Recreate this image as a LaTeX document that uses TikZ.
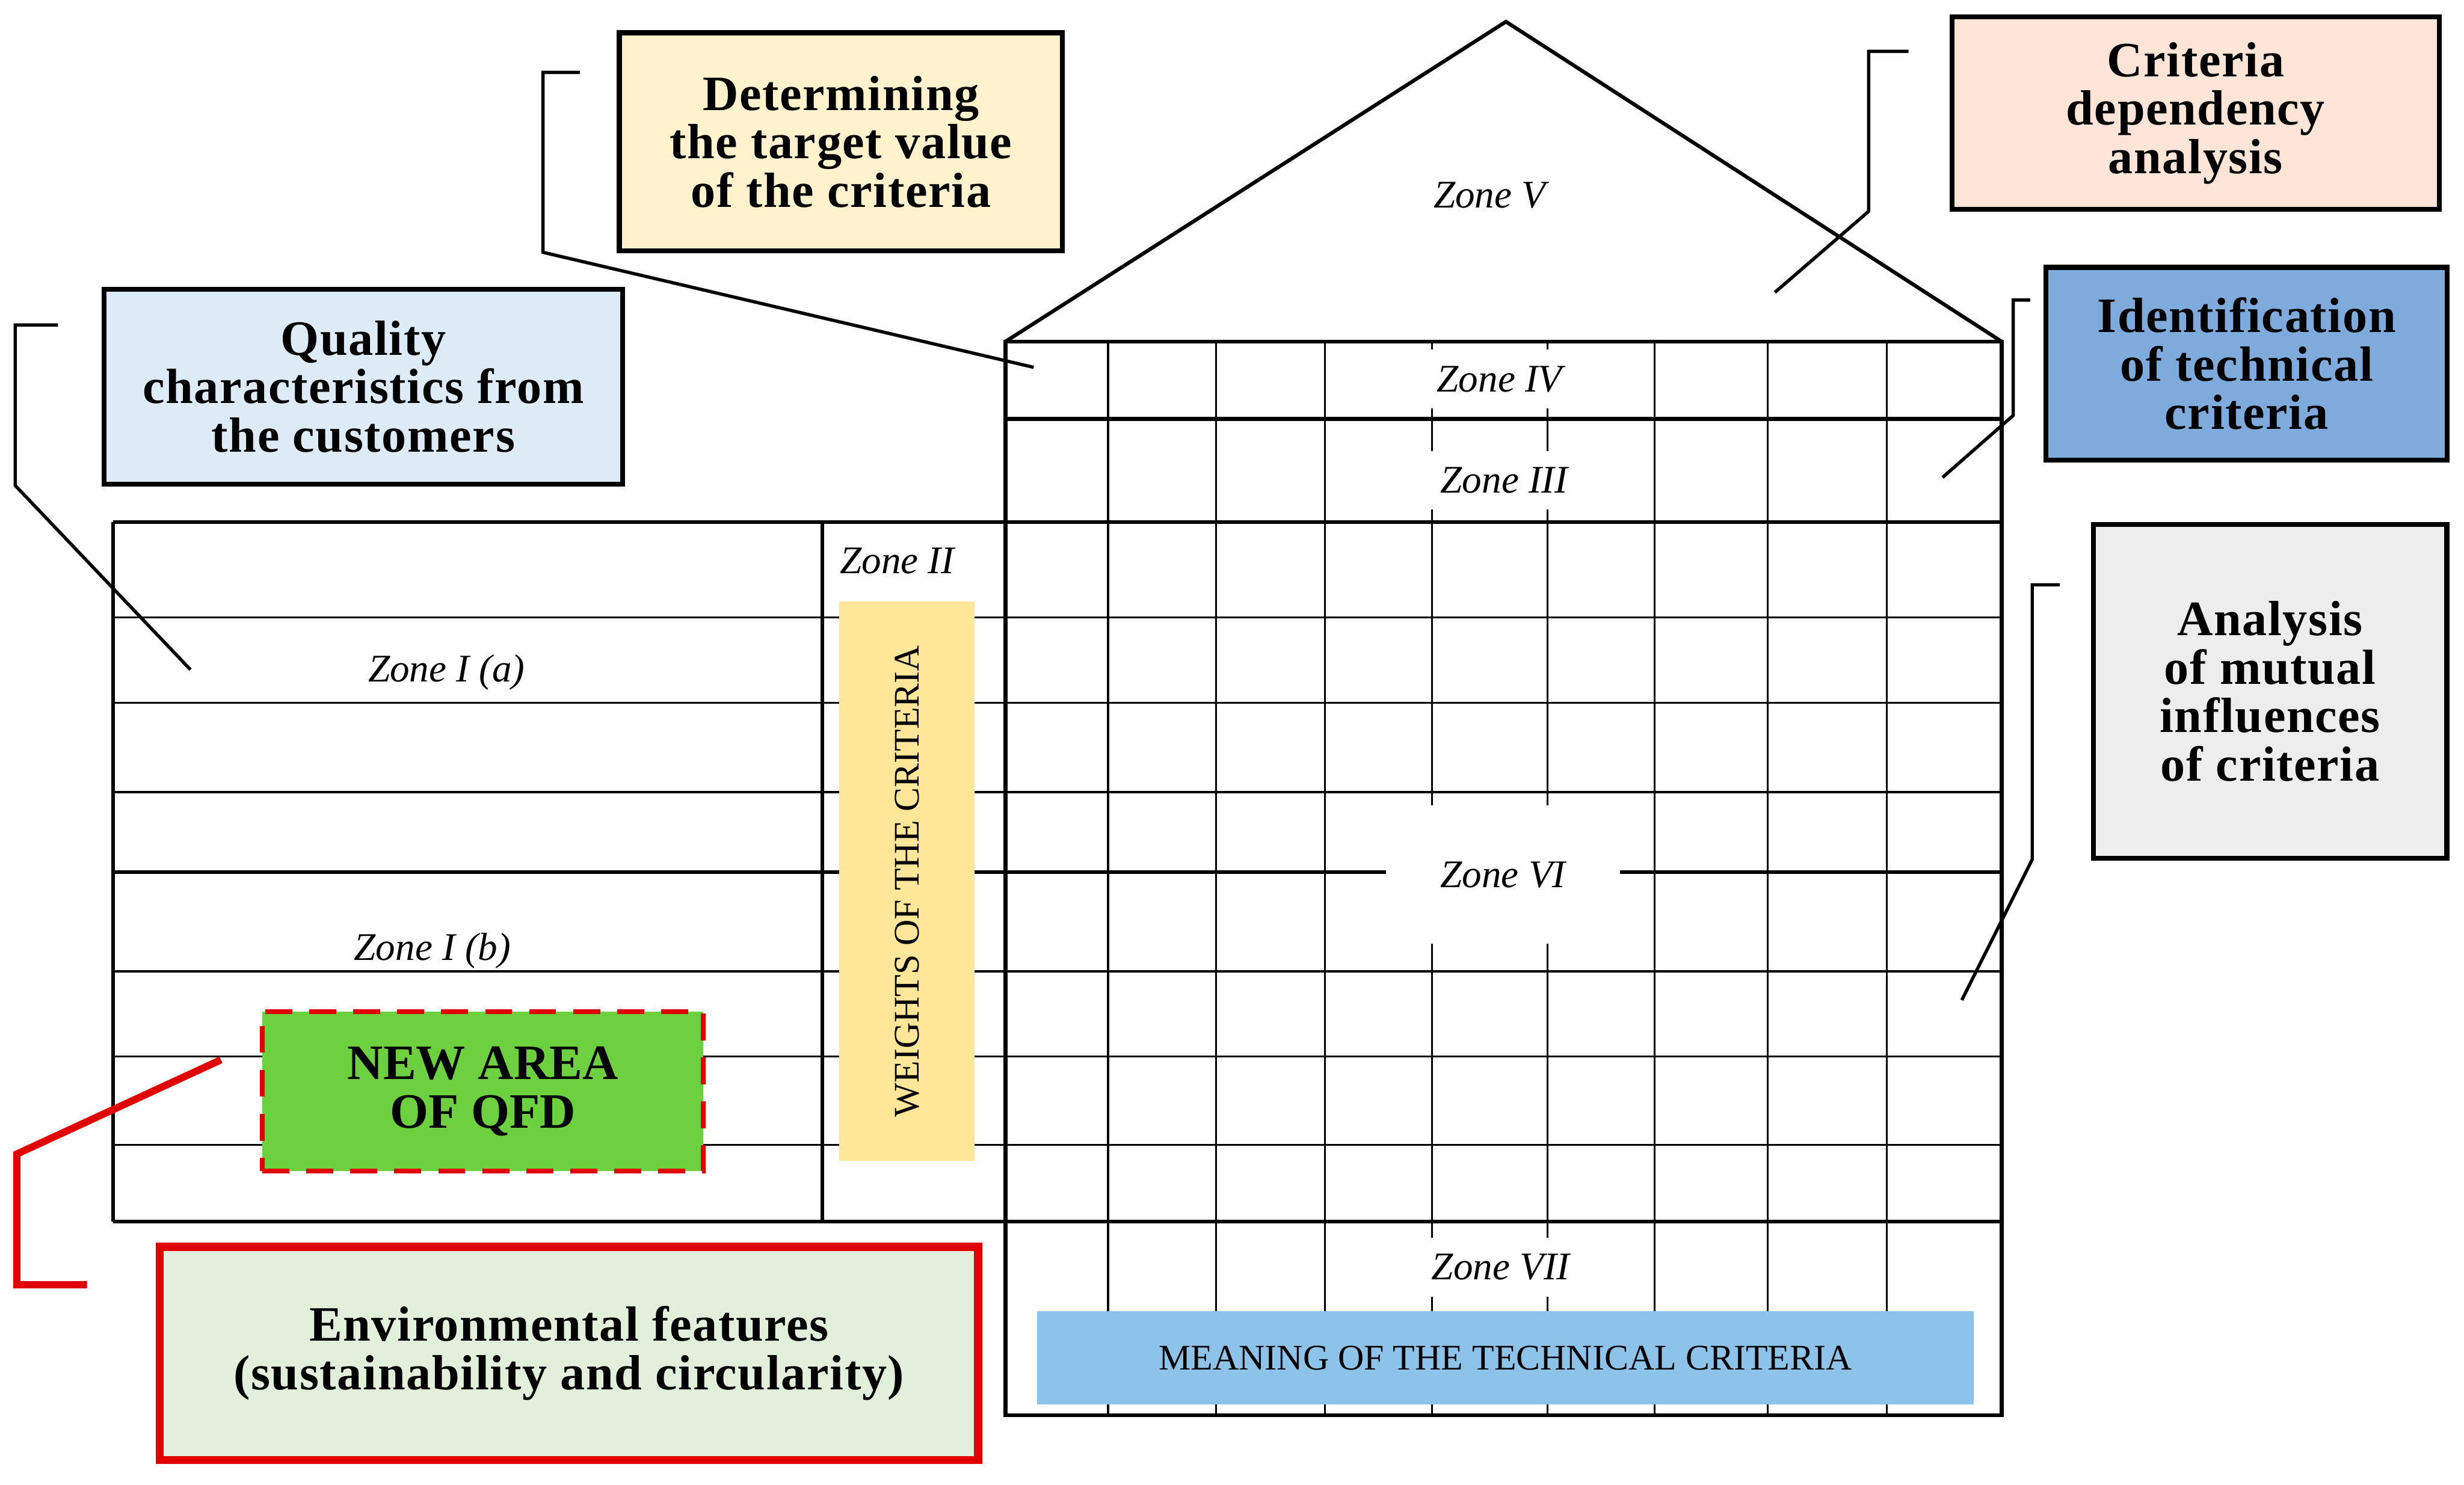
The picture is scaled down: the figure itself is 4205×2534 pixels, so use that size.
\documentclass[tikz,border=0pt]{standalone}
\usepackage{fontspec}
\setmainfont{Liberation Serif}
\usepackage{xcolor}
\usetikzlibrary{calc}
\definecolor{targetfill}{HTML}{FFF2CC}
\definecolor{qualfill}{HTML}{DDEBF7}
\definecolor{depfill}{HTML}{FCE4D6}
\definecolor{identfill}{HTML}{7FAADC}
\definecolor{mutualfill}{HTML}{EDEDED}
\definecolor{envfill}{HTML}{E2EFDA}
\definecolor{newfill}{HTML}{6DD13F}
\definecolor{weightfill}{HTML}{FFE699}
\definecolor{meaningfill}{HTML}{8DC3E8}
\definecolor{qfdred}{HTML}{E00000}

\begin{document}
\begin{tikzpicture}[x=0.01cm, y=-0.01cm,
  gridline/.style={line width=0.9pt},
  frame/.style={line width=1.8pt},
  callout/.style={draw, line width=2.4pt, fill=#1, align=center, inner sep=0pt,
    font=\fontsize{24}{23.5}\selectfont\bfseries\addfontfeature{LetterSpace=2}},
  leader/.style={line width=1.6pt},
  zone/.style={font=\fontsize{19}{21}\selectfont\itshape, inner sep=0pt},
  gap/.style={zone, fill=white, minimum width=27mm, minimum height=10mm},
  band/.style={fill=#1, align=center, inner sep=0pt, font=\fontsize{17.5}{19}\selectfont}]
  \useasboundingbox (0,0) rectangle (4205,2534);

  % house grid
  \foreach \y in {1054,1200,1352,1658,1803,1954}
    \draw[gridline] (193,\y) -- (3416,\y);
  \foreach \x in {1891,2075,2261,2444,2641,2824,3017,3220}
    \draw[gridline] (\x,583) -- (\x,2416);
  \foreach \y in {891,1489,2085}
    \draw[frame] (193,\y) -- (3416,\y);
  \draw[frame] (193,891) -- (193,2085);
  \draw[frame] (1403,891) -- (1403,2085);
  \draw[frame] (1716,583) rectangle (3416,2416);
  \draw[frame] (1716,715) -- (3416,715);
  \draw[frame, line join=miter] (1716,583) -- (2570,37) -- (3416,583);

  % coloured areas
  \node[band=weightfill, rotate=90, minimum width=95.4mm, minimum height=23.1mm] (weights) at (1548,1504) {WEIGHTS OF THE CRITERIA};
  \node[band=meaningfill, minimum width=159.8mm, minimum height=15.9mm] (meaning) at (2569,2318) {MEANING OF THE TECHNICAL CRITERIA};
  \node[draw=qfdred, line width=2.3pt, dash pattern=on 4.6mm off 2.9mm, fill=newfill, align=center, inner sep=0pt,
    minimum width=75.2mm, minimum height=27.2mm, font=\fontsize{24}{23.5}\selectfont\bfseries] (newarea) at (824,1863) {NEW AREA\\OF QFD};

  % zone labels
  \node[zone] (zone5) at (2542,333) {Zone V};
  \node[gap] (zone4) at (2559,647) {Zone IV};
  \node[gap] (zone3) at (2567,820) {Zone III};
  \node[gap, minimum width=40mm, minimum height=23.6mm] (zone6) at (2565,1493) {Zone VI};
  \node[gap] (zone7) at (2561,2163) {Zone VII};
  \node[zone] (zone1a) at (762,1148) {Zone I (a)};
  \node[zone] (zone1b) at (738,1623) {Zone I (b)};
  \node[zone] (zone2) at (1531,957) {Zone II};

  % callouts
  \node[callout=targetfill, minimum width=75.6mm, minimum height=37.2mm] (target) at (1435,242) {Determining\\the target value\\of the criteria};
  \node[callout=qualfill, minimum width=88.5mm, minimum height=33.2mm] (qual) at (620,660) {Quality\\characteristics from\\the customers};
  \node[callout=depfill, minimum width=83.1mm, minimum height=32.8mm] (dep) at (3747,193) {Criteria\\dependency\\analysis};
  \node[callout=identfill, minimum width=68.4mm, minimum height=32.9mm] (ident) at (3834,621) {Identification\\of technical\\criteria};
  \node[callout=mutualfill, minimum width=60.3mm, minimum height=56.9mm] (mutual) at (3874,1180) {Analysis\\of mutual\\influences\\of criteria};
  \node[callout=envfill, draw=qfdred, line width=4pt, minimum width=139.6mm, minimum height=36.4mm] (env) at (971,2310) {Environmental features\\(sustainability and circularity)};

  % leaders
  \coordinate (tipT) at (1764,627);
  \coordinate (tipQ) at (325,1143);
  \coordinate (tipD) at (3029,499);
  \coordinate (tipI) at (3315,815);
  \coordinate (tipM) at (3348,1707);
  \coordinate (tipN) at (377,1809);
  \draw[leader] ([shift={(-63,72)}]target.north west) -- ++(-63,0) -- ++(0,307) -- (tipT);
  \draw[leader] ([shift={(-74,65)}]qual.north west) -- ++(-73,0) -- ++(0,274) -- (tipQ);
  \draw[leader] ([shift={(-70,63)}]dep.north west) -- ++(-68,0) -- ++(0,273) -- (tipD);
  \draw[leader] ([shift={(-23,60)}]ident.north west) -- ++(-29,0) -- ++(0,197) -- (tipI);
  \draw[leader] ([shift={(-53,107)}]mutual.north west) -- ++(-47,0) -- ++(0,469) -- (tipM);
  \draw[line width=3.5pt, qfdred] ([shift={(-117,72)}]env.north west) -- ++(-120,0) -- ++(0,-223) -- (tipN);
\end{tikzpicture}
\end{document}
